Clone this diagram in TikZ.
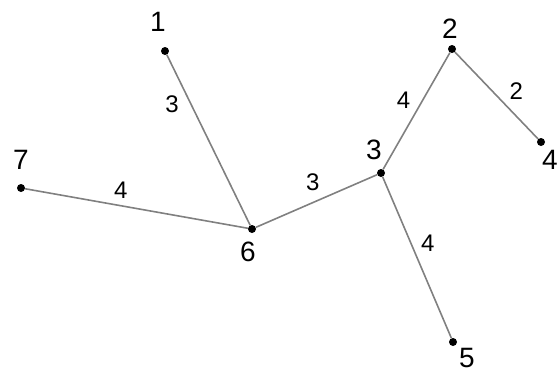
\documentclass[tikz,border=0pt]{standalone}
\usepackage{fontspec}
\setmainfont{Liberation Sans}
\usetikzlibrary{calc}

\tikzset{
  vert/.style={circle, fill=black, inner sep=0pt, minimum size=8pt},
  vlbl/.style={inner sep=0pt, font=\fontsize{28}{32}\selectfont},
  elbl/.style={inner sep=0pt, font=\fontsize{24}{28}\selectfont},
  edge/.style={draw=black!50, line width=1.6pt}
}

\begin{document}
\begin{tikzpicture}[x=1pt, y=-1pt]
\useasboundingbox (0,0) rectangle (557,373);
% vertices: name/x/y/label offset
\foreach \n/\x/\y/\dx/\dy in {1/165/51/-7/-29, 2/452/49/-2/-20, 3/381/173/-7/-23,
  4/541/142/9/18, 5/453/342/14/16, 6/252/229/-4/23, 7/21/188/0/-28} {
  \node[vert] (n\n) at (\x,\y) {};
  \node[vlbl] (l\n) at ($(n\n)+(\dx,\dy)$) {\n};
}
% weighted edges
\foreach \a/\b/\w/\p/\dx/\dy in {1/6/3/0.29/-19/0, 7/6/4/0.43/0/15, 6/3/3/0.47/0/20,
  3/2/4/0.59/-19/0, 2/4/2/0.45/24/0, 3/5/4/0.41/17/0} {
  \draw[edge] (n\a) -- (n\b) node[elbl, pos=\p, xshift=\dx pt, yshift=\dy pt] {\w};
}
\end{tikzpicture}
\end{document}
